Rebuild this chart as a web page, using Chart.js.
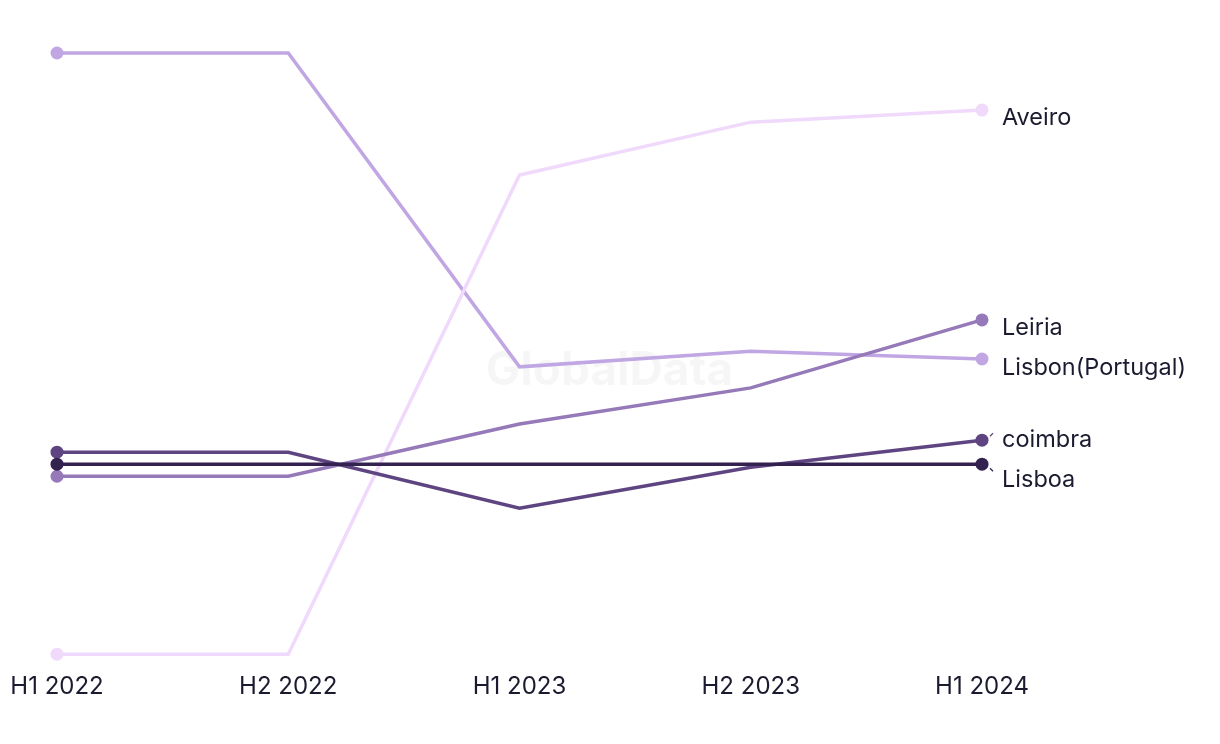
<!DOCTYPE html>
<html>
<head>
<meta charset="utf-8">
<script src="https://cdn.jsdelivr.net/npm/chart.js@4.4.1/dist/chart.umd.min.js"></script>
<style>
    html, body { margin: 0; padding: 0; background: #ffffff; }
    #wrap { width: 1220px; height: 744px; position: relative; }
</style>
</head>
<body>
<div id="wrap"><canvas id="chart" width="1220" height="744"></canvas></div>
<script>
/* ---------- Data ---------- */

const periods = ['H1 2022', 'H2 2022', 'H1 2023', 'H2 2023', 'H1 2024'];

const seriesNames = ['Lisbon(Portugal)', 'Aveiro', 'Leiria', 'coimbra', 'Lisboa'];

const lisbonPortugal = [100, 100, 47.8, 50.4, 49.1];
const aveiro         = [0, 0, 79.7, 88.5, 90.5];
const leiria         = [29.6, 29.6, 38.3, 44.3, 55.6];
const coimbra        = [33.6, 33.6, 24.3, 31.1, 35.6];
const lisboa         = [31.6, 31.6, 31.6, 31.6, 31.6];

const seriesValues = [lisbonPortugal, aveiro, leiria, coimbra, lisboa];
const seriesColors = ['#c0a6e3', '#f0d9fb', '#9579b8', '#5e4581', '#33214f'];

const FONT = 'Inter, "Liberation Sans", Arial, sans-serif';
const TEXT_COLOR = '#1b1b30';

/* ---------- Plugins ---------- */

const watermark = {
    id: 'watermark',
    beforeDatasetsDraw(chart) {
        const { ctx, chartArea } = chart;
        ctx.save();
        ctx.font = `bold 46px ${FONT}`;
        ctx.fillStyle = 'rgba(0, 0, 0, 0.035)';
        ctx.textAlign = 'center';
        ctx.textBaseline = 'middle';
        ctx.fillText('GlobalData', (chartArea.left + chartArea.right) / 2 + 90, 371);
        ctx.restore();
    },
};

// labels at the end of each line, spread apart so they don't overlap
const endLabels = {
    id: 'endLabels',
    afterDatasetsDraw(chart) {
        const { ctx } = chart;
        const minGap = 40;
        const items = chart.data.datasets.map((ds, i) => {
            const meta = chart.getDatasetMeta(i);
            const pt = meta.data[meta.data.length - 1];
            return { text: ds.label, color: ds.borderColor, px: pt.x, py: pt.y, y: pt.y + 8 };
        }).sort((a, b) => a.y - b.y);

        // cluster and centre overlapping labels
        let groups = items.map(it => ({ items: [it], center: it.y }));
        let merged = true;
        while (merged) {
            merged = false;
            for (let i = 0; i < groups.length - 1; i++) {
                const a = groups[i], b = groups[i + 1];
                const aBottom = a.center + (a.items.length - 1) * minGap / 2;
                const bTop = b.center - (b.items.length - 1) * minGap / 2;
                if (bTop - aBottom < minGap) {
                    const all = a.items.concat(b.items);
                    const center = all.reduce((s, it) => s + it.y, 0) / all.length;
                    groups.splice(i, 2, { items: all, center });
                    merged = true;
                    break;
                }
            }
        }
        groups.forEach(g => {
            const start = g.center - (g.items.length - 1) * minGap / 2;
            g.items.forEach((it, k) => {
                it.ly = start + k * minGap;
                it.moved = Math.abs(it.ly - it.y) > 6;
            });
        });

        ctx.save();
        ctx.font = `23.5px ${FONT}`;
        ctx.fillStyle = TEXT_COLOR;
        ctx.textAlign = 'left';
        ctx.textBaseline = 'middle';
        items.forEach(it => {
            ctx.fillText(it.text, it.px + 20, it.ly);
            if (it.moved) {
                // small leader tick towards the shifted label
                const dir = it.ly > it.y ? 1 : -1;
                ctx.strokeStyle = it.color;
                ctx.lineWidth = 1.3;
                ctx.beginPath();
                ctx.moveTo(it.px + 8, it.py + dir * 4);
                ctx.lineTo(it.px + 11, it.py + dir * 7);
                ctx.stroke();
            }
        });
        ctx.restore();
    },
};

/* ---------- Chart ---------- */

const datasets = seriesNames.map((name, i) => ({
    label: name,
    data: seriesValues[i],
    borderColor: seriesColors[i],
    backgroundColor: seriesColors[i],
    borderWidth: 3.5,
    tension: 0,
    fill: false,
    clip: false,
    pointRadius: ctx => (ctx.dataIndex === 0 || ctx.dataIndex === periods.length - 1) ? 6.5 : 0,
    pointHoverRadius: 6.5,
    pointBorderWidth: 0,
}));

// draw darker lines on top (reverse order of listing)
datasets.reverse();
datasets.forEach((ds, i) => { ds.order = i; });

new Chart(document.getElementById('chart'), {
    type: 'line',
    data: { labels: periods, datasets },
    options: {
        responsive: false,
        animation: false,
        layout: { padding: { left: 57, right: 238, top: 53, bottom: 25 } },
        plugins: {
            legend: { display: false },
            tooltip: { enabled: false },
        },
        scales: {
            x: {
                offset: false,
                grid: { display: false, drawTicks: false },
                border: { display: false },
                afterFit(scale) {
                    scale.paddingLeft = 0;
                    scale.paddingRight = 0;
                },
                ticks: {
                    color: TEXT_COLOR,
                    font: { family: FONT, size: 24 },
                    padding: 18,
                    maxRotation: 0,
                    autoSkip: false,
                },
            },
            y: {
                display: false,
                min: 0,
                max: 100,
            },
        },
    },
    plugins: [watermark, endLabels],
});
</script>
</body>
</html>
